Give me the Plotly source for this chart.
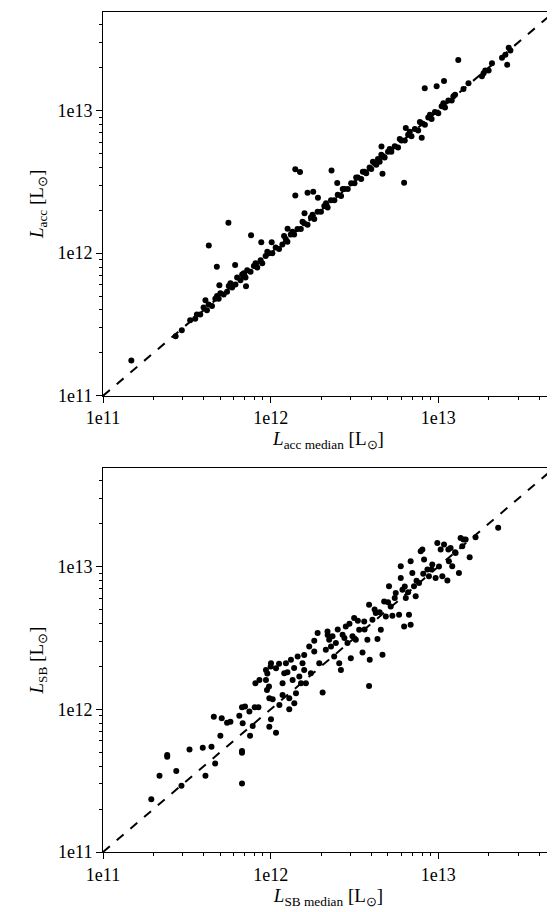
import plotly.graph_objects as go

# ── data (log10 of luminosity in L_sun) ──────────────────────────────────────
acc_med_log = [
    11.169, 11.433, 11.47, 11.52, 11.55, 11.56, 11.58, 11.60, 11.62, 11.63,
    11.65, 11.67, 11.69, 11.70, 11.72, 11.74, 11.75, 11.77, 11.79, 11.80,
    11.82, 11.83, 11.85, 11.86, 11.88, 11.90, 11.92, 11.94, 11.95, 11.97,
    11.99, 12.01, 12.03, 12.05, 12.07, 12.09, 12.10, 12.12, 12.14, 12.16,
    12.18, 12.20, 12.22, 12.24, 12.26, 12.28, 12.30, 12.32, 12.34, 12.36,
    12.38, 12.40, 12.42, 12.44, 12.46, 12.48, 12.50, 12.52, 12.54, 12.56,
    12.57, 12.59, 12.60, 12.62, 12.63, 12.64, 12.65, 12.67, 12.68, 12.70,
    12.72, 12.74, 12.76, 12.78, 12.80, 12.82, 12.84, 12.86, 12.88, 12.90,
    12.92, 12.94, 12.96, 12.98, 13.00, 13.02, 13.04, 13.06, 13.08, 13.10,
    13.15, 13.18, 13.26, 13.28, 13.30, 13.32, 13.38, 13.40, 13.43,
    11.631, 11.679, 11.748, 11.788, 11.883, 11.944, 12.006, 11.694, 12.147,
    12.175, 12.147, 12.220, 12.254, 12.282, 12.363, 12.397, 12.101, 12.202,
    12.661, 12.667, 12.796, 12.919, 12.990, 13.034, 13.119, 13.411, 12.901,
    12.806, 11.611, 11.853,
    11.68, 11.76, 11.84, 11.91, 11.98, 12.08, 12.13, 12.19, 12.25, 12.33,
    12.43, 12.51, 12.55, 12.61, 12.66, 12.71, 12.77, 12.83, 12.89, 12.95,
    13.03, 13.09, 13.27, 13.42,
]
acc_log = [
    11.248, 11.417, 11.46, 11.53, 11.54, 11.57, 11.57, 11.62, 11.60, 11.64,
    11.63, 11.68, 11.68, 11.72, 11.71, 11.73, 11.77, 11.76, 11.78, 11.83,
    11.81, 11.85, 11.83, 11.88, 11.87, 11.91, 11.90, 11.95, 11.93, 11.98,
    12.00, 12.00, 12.04, 12.03, 12.06, 12.10, 12.08, 12.13, 12.13, 12.17,
    12.17, 12.21, 12.20, 12.25, 12.24, 12.29, 12.29, 12.33, 12.32, 12.37,
    12.37, 12.41, 12.40, 12.45, 12.45, 12.49, 12.49, 12.53, 12.52, 12.57,
    12.56, 12.60, 12.59, 12.63, 12.62, 12.66, 12.64, 12.68, 12.67, 12.71,
    12.71, 12.75, 12.74, 12.79, 12.79, 12.83, 12.82, 12.87, 12.86, 12.91,
    12.90, 12.95, 12.94, 12.99, 12.98, 13.03, 13.02, 13.07, 13.07, 13.11,
    13.15, 13.19, 13.24, 13.28, 13.28, 13.33, 13.37, 13.39, 13.42,
    12.054, 11.904, 12.213, 11.918, 12.126, 12.077, 12.077, 11.775, 12.588,
    12.569, 12.405, 12.424, 12.431, 12.389, 12.579, 12.492, 12.171, 12.279,
    12.747, 12.557, 12.494, 13.155, 13.169, 13.206, 13.354, 13.321, 12.808,
    12.878, 11.670, 11.768,
    11.70, 11.79, 11.86, 11.93, 12.01, 12.12, 12.15, 12.22, 12.27, 12.35,
    12.45, 12.53, 12.57, 12.64, 12.69, 12.73, 12.80, 12.85, 12.92, 12.97,
    13.05, 13.10, 13.26, 13.44,
]

sb_med_log = [
    11.288, 11.337, 11.383, 11.383, 11.437, 11.468, 11.516, 11.595, 11.611, 11.647,
    11.669, 11.661, 11.700, 11.708, 11.740, 11.760, 11.813, 11.829, 11.847, 11.833,
    11.829, 11.829, 11.829, 11.877, 11.893, 11.873, 11.905, 11.927, 11.909, 11.933,
    11.972, 11.972, 11.978, 11.992, 12.002, 12.012, 12.032, 12.002, 11.992, 12.032,
    12.052, 12.071, 12.071, 12.081, 12.091, 12.111, 12.111, 12.121, 12.131, 12.141,
    12.151, 12.161, 12.171, 12.181, 12.190, 12.200, 12.210, 12.230, 12.240, 12.260,
    12.280, 12.290, 12.310, 12.329, 12.339, 12.349, 12.369, 12.379, 12.389, 12.409,
    12.419, 12.429, 12.448, 12.458, 12.478, 12.488, 12.498, 12.508, 12.528, 12.548,
    12.558, 12.577, 12.587, 12.591, 12.587, 12.607, 12.627, 12.637, 12.657, 12.667,
    12.677, 12.687, 12.706, 12.716, 12.726, 12.746, 12.766, 12.776, 12.776, 12.786,
    12.796, 12.806, 12.825, 12.835, 12.835, 12.845, 12.855, 12.865, 12.885, 12.895,
    12.905, 12.915, 12.935, 12.944, 12.964, 12.984, 12.994, 13.004, 13.014, 13.024,
    13.034, 13.054, 13.063, 13.073, 13.083, 13.103, 13.123, 13.133, 13.143, 13.163,
    13.187, 13.222, 13.357,
    11.98, 11.99, 12.00, 12.05, 12.10, 12.14, 12.20, 12.26, 12.34, 12.36,
    12.40, 12.44, 12.47, 12.52, 12.56, 12.62, 12.65, 12.70, 12.74, 12.80,
    12.82, 12.87, 12.91, 12.96, 13.06, 13.10, 13.15,
]
sb_log = [
    11.370, 11.534, 11.679, 11.667, 11.567, 11.464, 11.719, 11.731, 11.534, 11.738,
    11.621, 11.948, 11.815, 11.937, 11.906, 11.913, 11.955, 12.014, 12.019, 11.902,
    11.707, 11.696, 11.480, 11.815, 11.883, 11.984, 12.014, 12.014, 12.183, 12.206,
    12.276, 12.206, 12.136, 12.077, 12.323, 12.070, 12.288, 11.930, 11.878, 11.836,
    12.030, 12.101, 12.183, 12.253, 12.323, 12.077, 12.000, 12.347, 12.206, 12.042,
    12.112, 12.370, 12.230, 12.183, 12.323, 12.276, 12.183, 12.440, 12.253, 12.405,
    12.534, 12.323, 12.117, 12.417, 12.546, 12.487, 12.511, 12.370, 12.464, 12.323,
    12.276, 12.522, 12.581, 12.464, 12.358, 12.511, 12.639, 12.487, 12.557, 12.398,
    12.616, 12.487, 12.733, 12.347, 12.164, 12.628, 12.674, 12.492, 12.557, 12.382,
    12.756, 12.651, 12.862, 12.721, 12.656, 12.815, 12.663, 13.002, 12.920, 12.838,
    12.581, 12.780, 12.663, 12.593, 13.037, 12.955, 12.862, 12.792, 12.885, 13.108,
    13.119, 13.049, 12.979, 12.932, 13.014, 12.920, 13.166, 13.000, 13.119, 12.932,
    13.155, 12.902, 13.037, 13.131, 13.002, 13.096, 12.955, 13.201, 13.143, 13.190,
    13.066, 13.206, 13.272,
    12.25, 12.16, 12.30, 12.32, 12.26, 12.29, 12.38, 12.48, 12.52, 12.44,
    12.56, 12.50, 12.60, 12.62, 12.56, 12.70, 12.68, 12.75, 12.78, 12.86,
    12.82, 12.90, 12.95, 12.98, 13.12, 13.10, 13.19,
]

tick_vals = [1e11, 1e12, 1e13]
tick_text = ["1e11", "1e12", "1e13"]
LOG_MIN, LOG_MAX = 11.0, 13.69

minor_vals = [m * 10 ** e for e in (11, 12, 13) for m in range(2, 10) if m * 10 ** e < 10 ** LOG_MAX]
FONT = "Liberation Serif"
TITLE_FONT = dict(family=FONT, size=19, color="black")

fig = go.Figure()
panels = [
    (acc_med_log, acc_log, "x", "y"),
    (sb_med_log, sb_log, "x2", "y2"),
]
for xs, ys, xa, ya in panels:
    fig.add_trace(go.Scatter(
        x=[10 ** LOG_MIN, 10 ** LOG_MAX], y=[10 ** LOG_MIN, 10 ** LOG_MAX],
        mode="lines", line=dict(color="black", width=2, dash="dash"),
        xaxis=xa, yaxis=ya, showlegend=False, hoverinfo="skip",
    ))
    fig.add_trace(go.Scatter(
        x=[10 ** v for v in xs], y=[10 ** v for v in ys],
        mode="markers", marker=dict(color="black", size=6),
        xaxis=xa, yaxis=ya, showlegend=False,
    ))

axis_common = dict(
    type="log", range=[LOG_MIN, LOG_MAX],
    tickvals=tick_vals, ticktext=tick_text,
    ticks="outside", ticklen=6, tickwidth=1, tickcolor="black",
    minor=dict(tickvals=minor_vals, ticks="outside", ticklen=3, tickcolor="black"),
    showline=True, linecolor="black", linewidth=1, mirror=True,
    showgrid=False, zeroline=False, automargin=False,
    tickfont=dict(family=FONT, size=18, color="black"),
)

# the page body adds ~8 px offset, so the figure is sized a bit smaller
fig.update_layout(
    width=547, height=904,
    margin=dict(l=95, r=1, t=4, b=60),
    plot_bgcolor="white", paper_bgcolor="white",
    xaxis=dict(axis_common, domain=[0, 1], anchor="y",
               title=dict(text="<i>L</i><sub>acc median</sub> [L<sub>⊙</sub>]",
                          font=TITLE_FONT, standoff=2)),
    yaxis=dict(axis_common, domain=[0.543, 1.0], anchor="x",
               title=dict(text="<i>L</i><sub>acc</sub> [L<sub>⊙</sub>]",
                          font=TITLE_FONT, standoff=8)),
    xaxis2=dict(axis_common, domain=[0, 1], anchor="y2",
                title=dict(text="<i>L</i><sub>SB median</sub> [L<sub>⊙</sub>]",
                           font=TITLE_FONT, standoff=2)),
    yaxis2=dict(axis_common, domain=[0, 0.457], anchor="x2",
                title=dict(text="<i>L</i><sub>SB</sub> [L<sub>⊙</sub>]",
                           font=TITLE_FONT, standoff=8)),
)

fig.write_html("out.html")
